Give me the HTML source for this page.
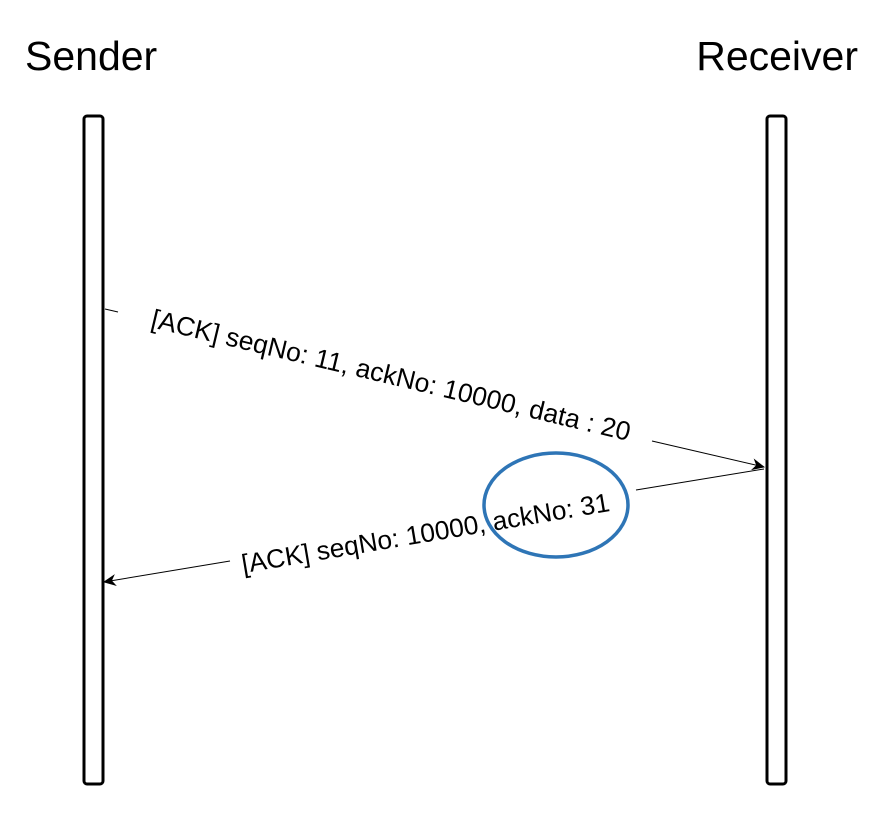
<!DOCTYPE html>
<html><head><meta charset="utf-8"><style>
html,body{margin:0;padding:0;background:#fff;width:876px;height:822px;overflow:hidden}
</style></head><body>
<svg width="876" height="822" xmlns="http://www.w3.org/2000/svg">
<defs>
<marker id="ah" markerWidth="14" markerHeight="12" refX="12" refY="6" orient="auto" markerUnits="userSpaceOnUse">
<path d="M0,0 L13,6 L0,12 L4,6 Z" fill="#000"/>
</marker>
</defs>
<text x="25" y="70" font-family="Liberation Sans, sans-serif" font-size="41" fill="#000">Sender</text>
<text x="858" y="70" text-anchor="end" font-family="Liberation Sans, sans-serif" font-size="41" fill="#000">Receiver</text>
<rect x="84" y="116" width="19" height="668" rx="3" fill="#fff" stroke="#000" stroke-width="3"/>
<rect x="767" y="116" width="19" height="668" rx="3" fill="#fff" stroke="#000" stroke-width="3"/>
<line x1="105" y1="309" x2="118" y2="312" stroke="#000" stroke-width="1"/>
<line x1="652" y1="441" x2="764" y2="467" stroke="#000" stroke-width="1" marker-end="url(#ah)"/>
<text transform="translate(389,384) rotate(13.4)" text-anchor="middle" font-family="Liberation Sans, sans-serif" font-size="26.5" fill="#000">[ACK] seqNo: 11, ackNo: 10000, data : 20</text>
<line x1="636" y1="490" x2="764" y2="469" stroke="#000" stroke-width="1"/>
<line x1="230" y1="561" x2="104" y2="582" stroke="#000" stroke-width="1" marker-end="url(#ah)"/>
<text transform="translate(427,542) rotate(-9.6)" text-anchor="middle" font-family="Liberation Sans, sans-serif" font-size="26.3" fill="#000">[ACK] seqNo: 10000, ackNo: 31</text>
<ellipse cx="556" cy="505" rx="72" ry="52" fill="none" stroke="#2e75b6" stroke-width="3.5"/>
</svg>
</body></html>
